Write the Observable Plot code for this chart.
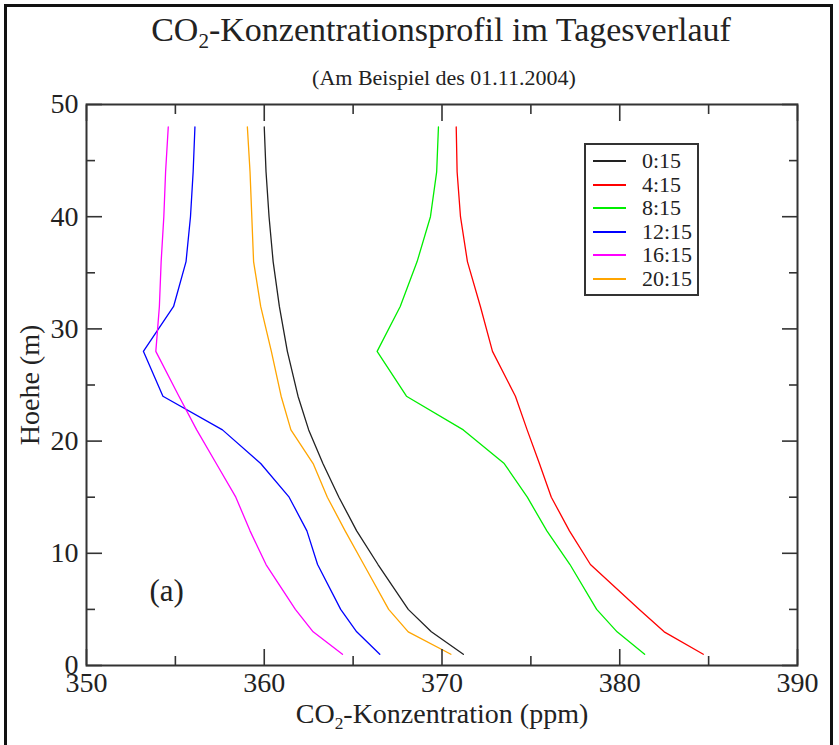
<!DOCTYPE html>
<html>
<head>
<meta charset="utf-8">
<script src="https://cdn.jsdelivr.net/npm/d3@7"></script>
<script src="https://cdn.jsdelivr.net/npm/@observablehq/plot@0.6"></script>
<style>
  html, body { margin: 0; padding: 0; background: #fff; overflow: hidden; }
  #wrap { position: relative; width: 839px; height: 745px; font-family: "Liberation Serif", "DejaVu Serif", serif; color: #222; }
  #border { position: absolute; left: 4px; top: 4px; width: 829px; height: 760px; border: 3px solid #111; box-sizing: border-box; }
  .abs { position: absolute; white-space: nowrap; line-height: 1; }
  #title { left: 0; width: 882px; top: 13px; text-align: center; font-size: 34px; }
  #subtitle { left: 0; width: 888px; top: 67px; text-align: center; font-size: 22px; }
  #xlabel { left: 0; width: 884px; top: 700px; text-align: center; font-size: 28px; }
  #ylabel { left: 30px; top: 385px; font-size: 28px; transform: translate(-50%, -50%) rotate(-90deg); }
  sub { font-size: 0.62em; vertical-align: -0.35em; line-height: 0; }
  #legend { position: absolute; left: 584px; top: 143px; width: 115px; height: 153px; border: 2px solid #333; box-sizing: border-box; background: #fff; }
  .row { position: absolute; left: 0; height: 22px; width: 110px; }
  .swatch { position: absolute; left: 7px; top: 10px; width: 33px; height: 2px; }
  .lab { position: absolute; left: 56px; top: 0; font-size: 22px; line-height: 22px; }
  svg { position: absolute; left: 0; top: 0; }
</style>
</head>
<body>
<div id="wrap">
  <div id="border"></div>
  <div id="plot"></div>
  <div id="title" class="abs">CO<sub>2</sub>-Konzentrationsprofil im Tagesverlauf</div>
  <div id="subtitle" class="abs">(Am Beispiel des 01.11.2004)</div>
  <div id="xlabel" class="abs">CO<sub>2</sub>-Konzentration (ppm)</div>
  <div id="ylabel" class="abs">Hoehe (m)</div>
  <div id="legend"></div>
</div>
<script>
// Heights (m) of the measurement levels
const heights = [1, 3, 5, 9, 12, 15, 18, 21, 24, 28, 32, 36, 40, 44, 48];
// Series labels and colours
const times = ["0:15", "4:15", "8:15", "12:15", "16:15", "20:15"];
const colors = ["#222222", "#ff0000", "#00ee00", "#0000ff", "#ff00ff", "#ffa500"];
// CO2 concentration (ppm) per height, one array per time of day
const c0015 = [371.2, 369.4, 368.1, 366.4, 365.2, 364.2, 363.3, 362.5, 361.9, 361.3, 360.85, 360.5, 360.27, 360.1, 360.0];
const c0415 = [384.7, 382.5, 381.1, 378.35, 377.17, 376.15, 375.48, 374.79, 374.13, 372.84, 372.16, 371.43, 371.04, 370.85, 370.8];
const c0815 = [381.4, 379.85, 378.7, 377.2, 375.9, 374.8, 373.5, 371.2, 368.0, 366.35, 367.65, 368.6, 369.35, 369.7, 369.8];
const c1215 = [366.5, 365.2, 364.3, 363.0, 362.4, 361.4, 359.8, 357.65, 354.3, 353.2, 354.9, 355.6, 355.85, 356.0, 356.1];
const c1615 = [364.4, 362.75, 361.75, 360.1, 359.2, 358.4, 357.3, 356.2, 355.2, 353.9, 354.1, 354.2, 354.35, 354.45, 354.6];
const c2015 = [370.5, 368.1, 367.0, 365.6, 364.55, 363.55, 362.75, 361.5, 360.95, 360.4, 359.8, 359.4, 359.3, 359.2, 359.05];
// Axis ticks
const xMajor = [350, 360, 370, 380, 390];
const xMinor = [355, 365, 375, 385];
const yMajor = [0, 10, 20, 30, 40, 50];
const yMinor = [5, 15, 25, 35, 45];
const panelLabel = ["(a)"];

const seriesValues = [c0015, c0415, c0815, c1215, c1615, c2015];
const data = [];
times.forEach((t, i) => heights.forEach((h, j) => data.push({time: t, h, c: seriesValues[i][j]})));

const axisStyle = {stroke: "#333", strokeWidth: 1.6};
const plot = Plot.plot({
  width: 839,
  height: 745,
  marginLeft: 86,
  marginRight: 42,
  marginTop: 104,
  marginBottom: 80,
  style: {fontFamily: "Liberation Serif, serif", background: "transparent", color: "#222"},
  x: {domain: [350, 390], label: null},
  y: {domain: [0, 50], label: null},
  color: {domain: times, range: colors},
  marks: [
    Plot.line(data, {x: "c", y: "h", z: "time", stroke: "time", strokeWidth: 1.3}),
    // major/minor ticks on all four sides, pointing inwards
    Plot.axisX(xMajor, {anchor: "bottom", tickSize: -16, tickFormat: () => "", label: null, ...axisStyle}),
    Plot.axisX(xMinor, {anchor: "bottom", tickSize: -9, tickFormat: () => "", label: null, ...axisStyle}),
    Plot.axisX(xMajor, {anchor: "top", tickSize: -16, tickFormat: () => "", label: null, ...axisStyle}),
    Plot.axisX(xMinor, {anchor: "top", tickSize: -9, tickFormat: () => "", label: null, ...axisStyle}),
    Plot.axisY(yMajor, {anchor: "left", tickSize: -16, tickFormat: () => "", label: null, ...axisStyle}),
    Plot.axisY(yMinor, {anchor: "left", tickSize: -9, tickFormat: () => "", label: null, ...axisStyle}),
    Plot.axisY(yMajor, {anchor: "right", tickSize: -16, tickFormat: () => "", label: null, ...axisStyle}),
    Plot.axisY(yMinor, {anchor: "right", tickSize: -9, tickFormat: () => "", label: null, ...axisStyle}),
    // tick labels
    Plot.axisX(xMajor, {anchor: "bottom", tickSize: 0, tickPadding: 7, label: null, fontSize: 28, fill: "#222", tickFormat: d => String(d)}),
    Plot.axisY(yMajor, {anchor: "left", tickSize: 0, tickPadding: 8, label: null, fontSize: 28, fill: "#222", tickFormat: d => String(d)}),
    Plot.frame({stroke: "#333", strokeWidth: 2}),
    Plot.text(panelLabel, {frameAnchor: "bottom-left", dx: 63, dy: -65, fontSize: 31, fill: "#222", text: d => d})
  ]
});
document.getElementById("plot").appendChild(plot);

const legend = document.getElementById("legend");
times.forEach((t, i) => {
  const row = document.createElement("div");
  row.className = "row";
  row.style.top = (5 + i * 23.5) + "px";
  row.innerHTML = `<div class="swatch" style="background:${colors[i]}"></div><div class="lab">${t}</div>`;
  legend.appendChild(row);
});
</script>
</body>
</html>
